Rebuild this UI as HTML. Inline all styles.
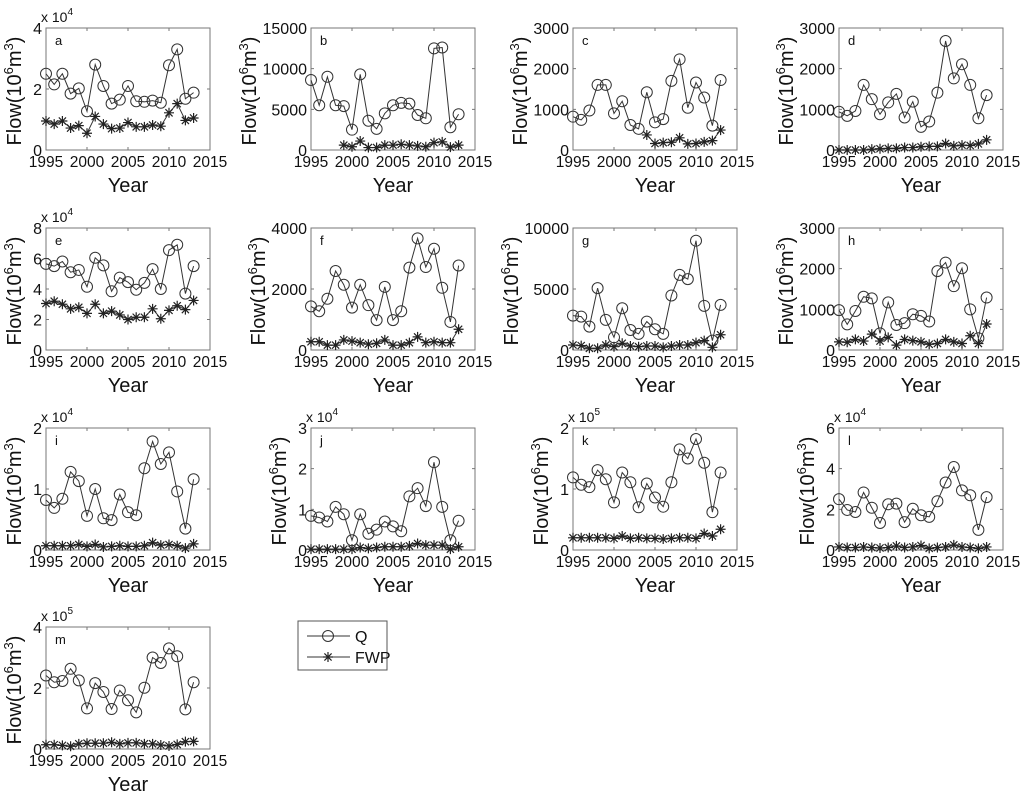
<!DOCTYPE html>
<html><head><meta charset="utf-8"><style>
body{margin:0;background:#fff;}
svg{display:block;font-family:"Liberation Sans",sans-serif;}
</style></head><body>
<svg id="fig" width="1024" height="794" viewBox="0 0 1024 794" xmlns="http://www.w3.org/2000/svg"></svg>
<script>
const years=[1995,1996,1997,1998,1999,2000,2001,2002,2003,2004,2005,2006,2007,2008,2009,2010,2011,2012,2013];
const qA=[2.5,2.15,2.5,1.85,2.02,1.27,2.8,2.1,1.52,1.65,2.1,1.6,1.58,1.62,1.55,2.78,3.3,1.68,1.88];
const fA=[0.95,0.85,0.95,0.72,0.8,0.55,1.1,0.85,0.7,0.72,0.9,0.76,0.76,0.82,0.78,1.22,1.52,0.97,1.05];
const qB=[8600,5500,9000,5500,5400,2500,9300,3600,2600,4500,5500,5800,5700,4300,3900,12500,12600,2800,4400];
const fB=[null,null,null,null,600,400,1100,300,300,600,600,700,600,500,400,900,1000,350,600];
const qC=[820,740,970,1600,1600,900,1200,615,520,1420,680,760,1700,2230,1040,1660,1290,600,1720];
const fC=[null,null,null,null,null,null,null,null,null,370,160,180,190,300,150,160,200,230,490];
const qD=[940,840,960,1600,1250,880,1170,1380,800,1190,570,700,1410,2680,1760,2110,1600,780,1350];
const fD=[0,0,0,0,20,30,40,40,60,60,80,90,90,160,100,120,110,150,250];
const qE=[5.65,5.5,5.8,5.1,5.25,4.15,6.05,5.55,3.85,4.75,4.45,3.95,4.4,5.3,4.0,6.55,6.9,3.7,5.5];
const fE=[3.05,3.2,3.0,2.7,2.8,2.4,3.0,2.4,2.55,2.3,2.0,2.15,2.15,2.7,2.05,2.6,2.9,2.65,3.25];
const qF=[1430,1270,1680,2590,2140,1390,2140,1470,980,2070,980,1270,2700,3660,2720,3320,2040,920,2770];
const fF=[270,270,160,160,330,290,240,190,220,330,160,160,240,430,240,270,240,240,680];
const qG=[2820,2740,1920,5070,2470,1040,3420,1640,1320,2330,1700,1320,4470,6160,5810,8960,3620,770,3700];
const fG=[410,360,140,140,410,270,550,330,270,330,330,220,330,410,410,600,770,220,1250];
const qH=[980,630,960,1310,1270,410,1170,615,660,880,840,700,1940,2150,1570,2010,1000,290,1290];
const fH=[200,190,260,220,390,220,310,120,260,230,200,140,160,260,200,160,350,160,640];
const qI=[0.82,0.69,0.84,1.28,1.13,0.56,1.0,0.52,0.49,0.91,0.62,0.57,1.34,1.78,1.41,1.6,0.96,0.35,1.16];
const fI=[0.07,0.07,0.07,0.07,0.09,0.06,0.09,0.05,0.06,0.07,0.06,0.06,0.07,0.12,0.08,0.09,0.07,0.03,0.1];
const qJ=[0.84,0.8,0.7,1.06,0.88,0.24,0.88,0.4,0.5,0.7,0.58,0.46,1.32,1.52,1.08,2.16,1.06,0.24,0.72];
const fJ=[0.02,0.02,0.02,0.02,0.02,0.02,0.06,0.04,0.06,0.08,0.08,0.08,0.1,0.16,0.12,0.12,0.12,0.02,0.08];
const qK=[1.19,1.07,1.03,1.31,1.16,0.78,1.27,1.11,0.7,1.09,0.86,0.71,1.11,1.65,1.5,1.82,1.43,0.62,1.27];
const fK=[0.2,0.2,0.2,0.2,0.2,0.19,0.23,0.19,0.2,0.19,0.19,0.18,0.19,0.2,0.2,0.19,0.27,0.23,0.34];
const qL=[2.5,1.97,1.87,2.83,2.08,1.33,2.25,2.28,1.37,2.03,1.71,1.63,2.4,3.32,4.08,2.93,2.69,0.99,2.6];
const fL=[0.15,0.12,0.12,0.15,0.12,0.1,0.12,0.2,0.12,0.15,0.22,0.08,0.12,0.15,0.25,0.15,0.12,0.08,0.15];
const qM=[2.41,2.19,2.23,2.63,2.25,1.33,2.16,1.87,1.31,1.92,1.6,1.2,2.01,3.0,2.82,3.3,3.04,1.3,2.19];
const fM=[0.14,0.14,0.12,0.09,0.17,0.19,0.19,0.19,0.22,0.17,0.2,0.2,0.17,0.17,0.13,0.1,0.15,0.24,0.25];
const xTicks=[1995,2000,2005,2010,2015];
const ticksA=[0,2,4],ticksB=[0,5000,10000,15000],ticks3k=[0,1000,2000,3000],ticksE=[0,2,4,6,8],ticksF=[0,2000,4000],ticksG=[0,5000,10000],ticks2=[0,1,2],ticks3=[0,1,2,3],ticksL=[0,2,4,6];
const panels=[
 {id:'a',q:qA,f:fA,t:ticksA,e:4},{id:'b',q:qB,f:fB,t:ticksB},{id:'c',q:qC,f:fC,t:ticks3k},{id:'d',q:qD,f:fD,t:ticks3k},
 {id:'e',q:qE,f:fE,t:ticksE,e:4},{id:'f',q:qF,f:fF,t:ticksF},{id:'g',q:qG,f:fG,t:ticksG},{id:'h',q:qH,f:fH,t:ticks3k},
 {id:'i',q:qI,f:fI,t:ticks2,e:4},{id:'j',q:qJ,f:fJ,t:ticks3,e:4},{id:'k',q:qK,f:fK,t:ticks2,e:5},{id:'l',q:qL,f:fL,t:ticksL,e:4},
 {id:'m',q:qM,f:fM,t:ticksA,e:5}];
const lefts=[46,311,573,839],tops=[28,228,428,627],W=164,H=122;
const NS='http://www.w3.org/2000/svg',svg=document.getElementById('fig');
function mk(tag,at,parent,txt){const e=document.createElementNS(NS,tag);for(const k in at)e.setAttribute(k,at[k]);if(txt!==undefined)e.textContent=txt;(parent||svg).appendChild(e);return e;}
function circ(g,x,y){return mk('circle',{cx:x,cy:y,r:5.5,fill:'none',stroke:'#333','stroke-width':1},g);}
function star(g,x,y){return mk('path',{d:`M${x-5} ${y}H${x+5}M${x} ${y-5}V${y+5}M${x-3.6} ${y-3.6}L${x+3.6} ${y+3.6}M${x-3.6} ${y+3.6}L${x+3.6} ${y-3.6}`,stroke:'#222','stroke-width':1.2},g);}
const labOff={1:32,4:53,5:62};
panels.forEach((p,i)=>{
 const L=lefts[i%4],T=tops[Math.floor(i/4)],B=T+H,ymax=p.t[p.t.length-1];
 const sx=v=>L+(v-1995)/20*W, sy=v=>B-v/ymax*H;
 const g=mk('g',{});
 
 
 const box=mk('rect',{x:L,y:T,width:W,height:H,fill:'none',stroke:'#777','stroke-width':1},g);
 
 
 xTicks.forEach(v=>{const x=sx(v);
  mk('path',{d:`M${x} ${B}v-3M${x} ${T}v3`,stroke:'#777'},g);
  const t=mk('text',{x:x,y:B+17,'font-size':15.5,'text-anchor':'middle',fill:'#111'},g,v);
  
  });
 p.t.forEach(v=>{const y=sy(v);
  mk('path',{d:`M${L} ${y}h3M${L+W} ${y}h-3`,stroke:'#777'},g);
  const t=mk('text',{x:L-4,y:y+6,'font-size':16,'text-anchor':'end',fill:'#111'},g,v);
  
  });
 if(p.e){const t=mk('text',{x:L-5,y:T-6,'font-size':14,fill:'#111'},g,'x 10');
  mk('tspan',{dy:-7,'font-size':10},t,p.e);
  
  }
 const lt=mk('text',{x:L+9,y:T+17,'font-size':13,fill:'#111'},g,p.id);
 
 
 const xl=mk('text',{x:L+W/2,y:B+42,'font-size':20,'text-anchor':'middle',fill:'#111'},g,'Year');
 
 
 const nd=String(ymax).length;
 const yl=mk('text',{x:0,y:0,'font-size':20,'text-anchor':'middle',fill:'#111',transform:`translate(${L-labOff[nd]+7},${T+H/2+2}) rotate(-90)`},g);
 yl.appendChild(document.createTextNode('Flow(10'));
 mk('tspan',{dy:-8,'font-size':13},yl,'6');
 mk('tspan',{dy:8},yl,'m');
 mk('tspan',{dy:-8,'font-size':13},yl,'3');
 mk('tspan',{dy:8},yl,')');
 
 
 [[p.q,'q'],[p.f,'fwp']].forEach(([arr,nm])=>{
  const pts=[];arr.forEach((v,k)=>{if(v!==null)pts.push([sx(years[k]),sy(v)]);});
  const ln=mk('polyline',{points:pts.map(a=>a.join(',')).join(' '),fill:'none',stroke:'#333','stroke-width':1},g);
  
  
  pts.forEach(a=>{const m=nm==='q'?circ(g,a[0],a[1]):star(g,a[0],a[1]);
   
   });
 });
});
const lg=mk('g',{});


mk('rect',{x:298,y:621,width:89,height:49,fill:'#fff',stroke:'#555'},lg);
mk('line',{x1:307,y1:636,x2:350,y2:636,stroke:'#333'},lg);circ(lg,328,636);
const lq=mk('text',{x:355,y:642,'font-size':16,fill:'#111'},lg,'Q');


mk('line',{x1:307,y1:657,x2:350,y2:657,stroke:'#333'},lg);star(lg,328,657);
const lf=mk('text',{x:355,y:663,'font-size':16,fill:'#111'},lg,'FWP');


</script>
</body></html>
